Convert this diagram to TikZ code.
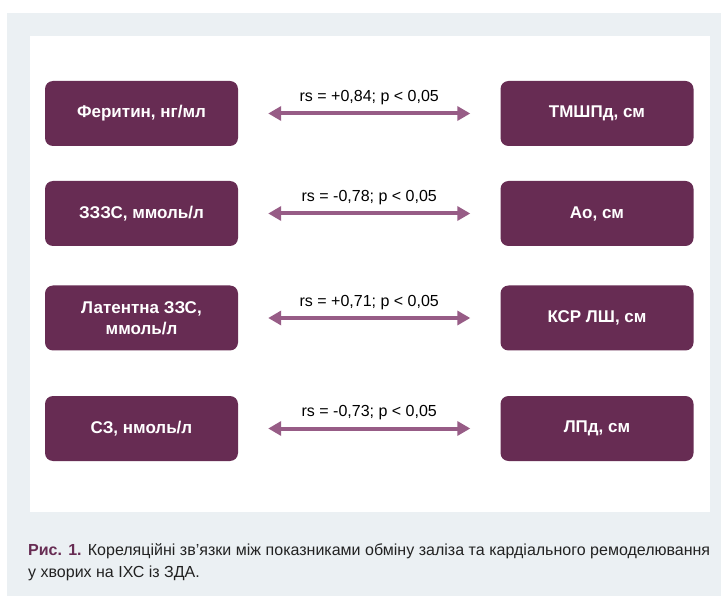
\documentclass[tikz,border=0pt]{standalone}
\usepackage{fontspec}
\setmainfont{Liberation Sans}
\usetikzlibrary{positioning,arrows.meta}
\definecolor{plum}{HTML}{672C53}
\definecolor{plumarrow}{HTML}{975C86}
\definecolor{panelgray}{HTML}{EBF0F3}
\definecolor{captext}{HTML}{222222}

\begin{document}
\begin{tikzpicture}[x=1pt,y=-1pt,
    valbox/.style={fill=plum,rounded corners=8pt,minimum width=193pt,minimum height=65pt,
      inner sep=0pt,text=white,align=center,font=\fontsize{17}{20.5}\selectfont\bfseries},
    corr/.style={plumarrow,line width=4pt,
      {Triangle[length=13pt,width=14pt]}-{Triangle[length=13pt,width=14pt]},
      shorten <=30pt,shorten >=30pt},
    rslabel/.style={above=6.5pt,inner sep=0pt,text=black,font=\fontsize{16}{18}\selectfont}]
  \useasboundingbox (0,0) rectangle (721,596);
  % ---- panel ----
  \fill[panelgray] (7,13) rectangle (721,596);
  \fill[white] (30,36) rectangle (710,512);
  % ---- rows: left index, right index, correlation ----
  \foreach \i/\y/\lt/\rt/\rs in {1/113.5/{Феритин, нг/мл}/{ТМШПд, см}/{+0,84},
      2/213.5/{ЗЗЗС, ммоль/л}/{Ао, см}/{-0,78},
      3/318/{Латентна ЗЗС,\\ммоль/л}/{КСР ЛШ, см}/{+0,71},
      4/428.5/{СЗ, нмоль/л}/{ЛПд, см}/{-0,73}}{
    \node[valbox] (L\i) at (141.5,\y) {\lt};
    \node[valbox] (R\i) at (597,\y) {\rt};
    \draw[corr] (L\i.east) -- node[rslabel] {rs = \rs; p < 0,05} (R\i.west);
  }
  % ---- caption ----
  \node[anchor=north west,inner sep=0pt,text width=682pt,align=justify,text=captext,
    font=\fontsize{16}{22.5}\selectfont] (cap) at (28,543)
    {\textcolor{plum}{\bfseries Рис. 1.} Кореляційні зв’язки між показниками обміну заліза та кардіального ремоделювання\linebreak у хворих на ІХС із ЗДА.};
\end{tikzpicture}
\end{document}
